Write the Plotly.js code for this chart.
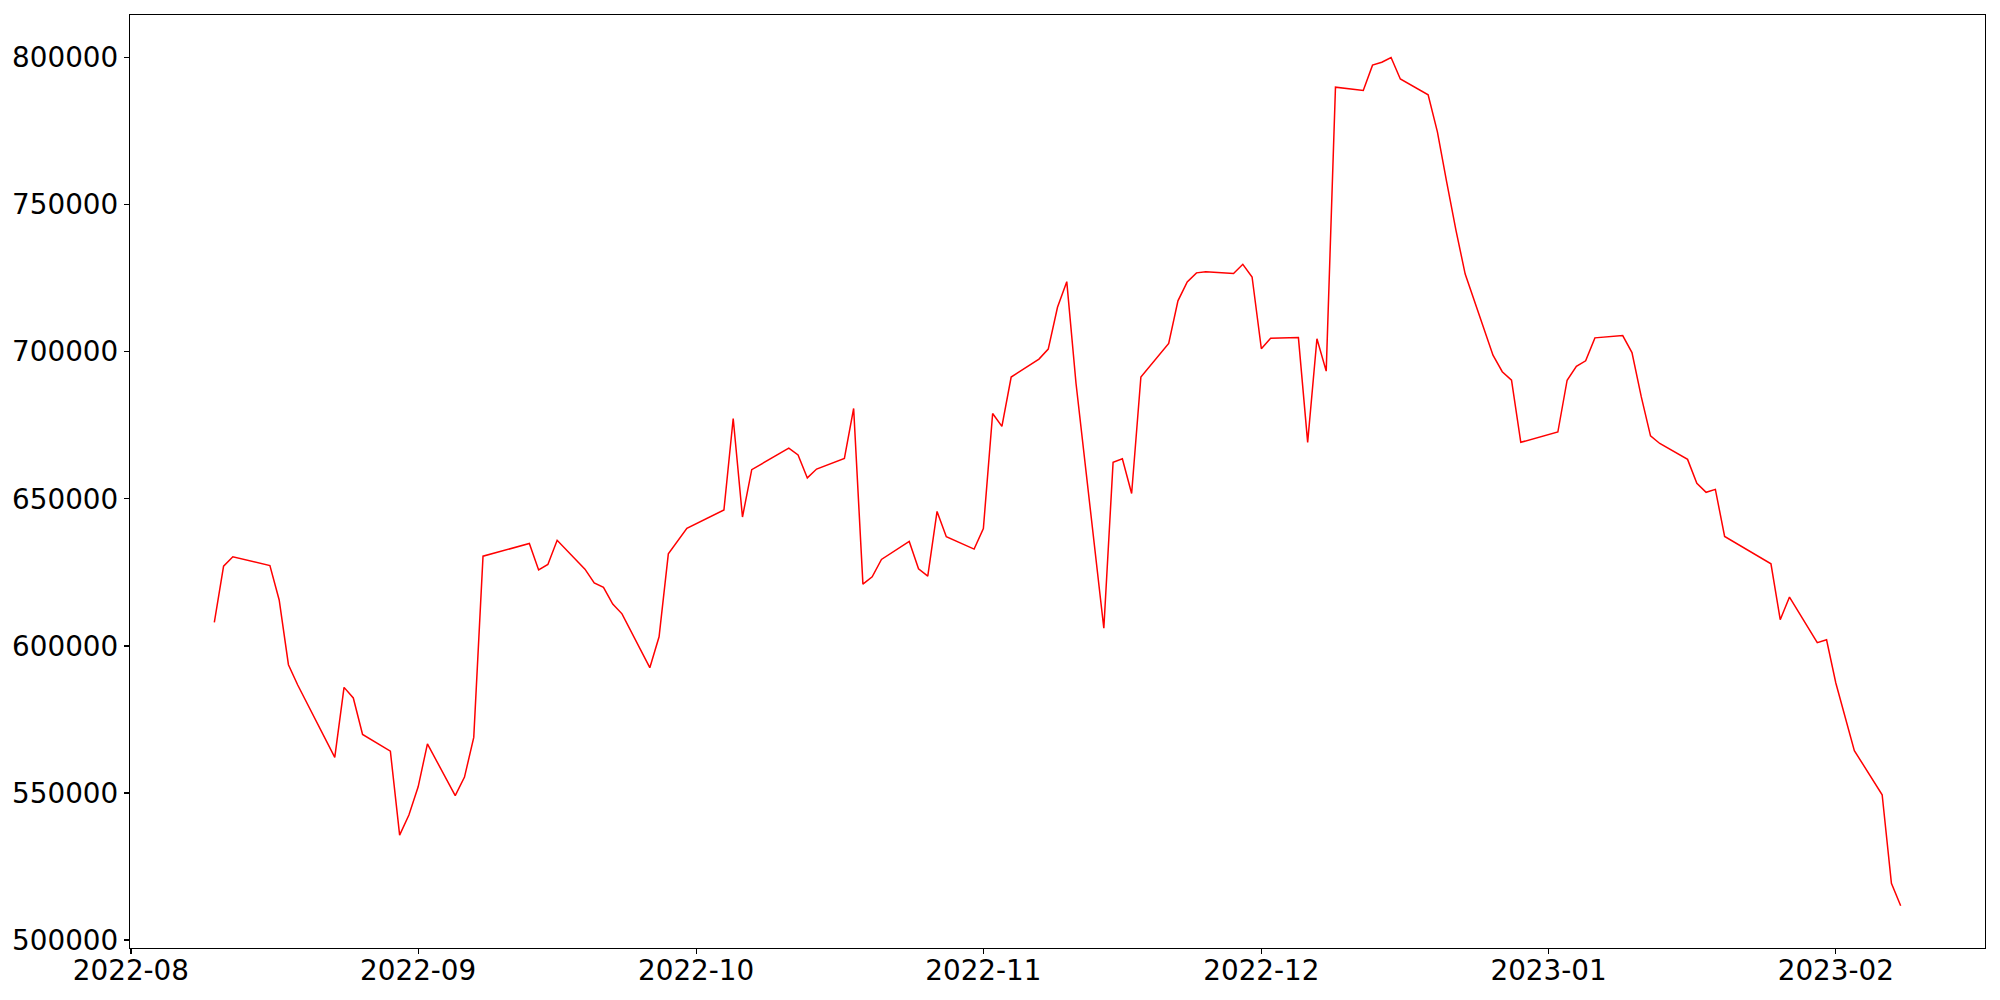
<!DOCTYPE html>
<html>
<head>
<meta charset="utf-8">
<script src="https://cdn.plot.ly/plotly-3.0.1.min.js"></script>
<style>html,body{margin:0;padding:0;background:#fff;}#chart{width:2000px;height:1000px;}</style>
</head>
<body>
<div id="chart"></div>
<script>
const dates = [
  "2022-08-10","2022-08-11","2022-08-12","2022-08-16","2022-08-17","2022-08-18","2022-08-19",
  "2022-08-23","2022-08-24","2022-08-25","2022-08-26","2022-08-29","2022-08-30","2022-08-31",
  "2022-09-01","2022-09-02","2022-09-05","2022-09-06","2022-09-07","2022-09-08","2022-09-13",
  "2022-09-14","2022-09-15","2022-09-16","2022-09-19","2022-09-20","2022-09-21","2022-09-22",
  "2022-09-23","2022-09-26","2022-09-27","2022-09-28","2022-09-30","2022-10-04","2022-10-05",
  "2022-10-06","2022-10-07","2022-10-11","2022-10-12","2022-10-13","2022-10-14","2022-10-17",
  "2022-10-18","2022-10-19","2022-10-20","2022-10-21","2022-10-24","2022-10-25","2022-10-26",
  "2022-10-27","2022-10-28","2022-10-31","2022-11-01","2022-11-02","2022-11-03","2022-11-04",
  "2022-11-07","2022-11-08","2022-11-09","2022-11-10","2022-11-11","2022-11-14","2022-11-15",
  "2022-11-16","2022-11-17","2022-11-18","2022-11-21","2022-11-22","2022-11-23","2022-11-24",
  "2022-11-25","2022-11-28","2022-11-29","2022-11-30","2022-12-01","2022-12-02","2022-12-05",
  "2022-12-06","2022-12-07","2022-12-08","2022-12-09","2022-12-12","2022-12-13","2022-12-14",
  "2022-12-15","2022-12-16","2022-12-19","2022-12-20","2022-12-21","2022-12-22","2022-12-23",
  "2022-12-26","2022-12-27","2022-12-28","2022-12-29","2023-01-02","2023-01-03","2023-01-04",
  "2023-01-05","2023-01-06","2023-01-09","2023-01-10","2023-01-11","2023-01-12","2023-01-13",
  "2023-01-16","2023-01-17","2023-01-18","2023-01-19","2023-01-20","2023-01-25","2023-01-26",
  "2023-01-27","2023-01-30","2023-01-31","2023-02-01","2023-02-03","2023-02-06","2023-02-07",
  "2023-02-08"
];
const values = [
  608000,627100,630300,627300,615600,593600,586700,
  562100,585900,582300,569900,564200,535700,542500,
  552100,566700,549100,555400,568900,630500,634800,
  625800,627700,635900,626100,621400,619900,614200,
  610900,592600,603100,631300,640000,646200,677300,
  643800,659900,667200,664900,657100,660100,663700,
  680700,621000,623500,629400,635500,626200,623700,
  645700,637100,632900,639900,679000,674600,691400,
  697500,700900,715100,723800,689200,606000,662400,
  663600,651800,691400,702800,717300,723700,726800,
  727200,726600,729700,725400,701000,704600,704800,
  669200,704400,693400,789900,788800,797400,798400,
  800000,792700,787300,774700,757700,741300,726400,
  698800,693200,690300,669200,672700,690300,695000,
  696900,704700,705500,699700,684700,671400,668800,
  663400,655300,652200,653200,637200,627900,608900,
  616600,601100,602100,587400,564400,549400,519300,
  511700
];
const yTicks = [500000,550000,600000,650000,700000,750000,800000];

const font = {family: "DejaVu Sans, sans-serif", size: 27.8, color: "#000"};

Plotly.newPlot("chart", [{
  x: dates, y: values, type: "scatter", mode: "lines",
  line: {color: "#ff0000", width: 1.5}, hoverinfo: "skip"
}], {
  width: 2000, height: 1000,
  margin: {l: 130, r: 15, t: 15, b: 52, pad: 0},
  paper_bgcolor: "#fff", plot_bgcolor: "#fff",
  showlegend: false,
  font: font,
  xaxis: {
    type: "date",
    range: ["2022-07-31 21:36", "2023-02-17 02:24"],
    dtick: "M1", tick0: "2022-08-01", tickformat: "%Y-%m",
    showgrid: false, zeroline: false,
    showline: true, mirror: true, linecolor: "#000", linewidth: 1.2,
    ticks: "outside", ticklen: 5, tickwidth: 1.2, tickcolor: "#000",
    ticklabelstandoff: -8,
    tickfont: font
  },
  yaxis: {
    range: [497315, 814445],
    tickvals: yTicks, ticktext: yTicks.map(String),
    showgrid: false, zeroline: false,
    showline: true, mirror: true, linecolor: "#000", linewidth: 1.2,
    ticks: "outside", ticklen: 5, tickwidth: 1.2, tickcolor: "#000",
    tickfont: font
  }
}, {displayModeBar: false, staticPlot: true});
</script>
</body>
</html>
